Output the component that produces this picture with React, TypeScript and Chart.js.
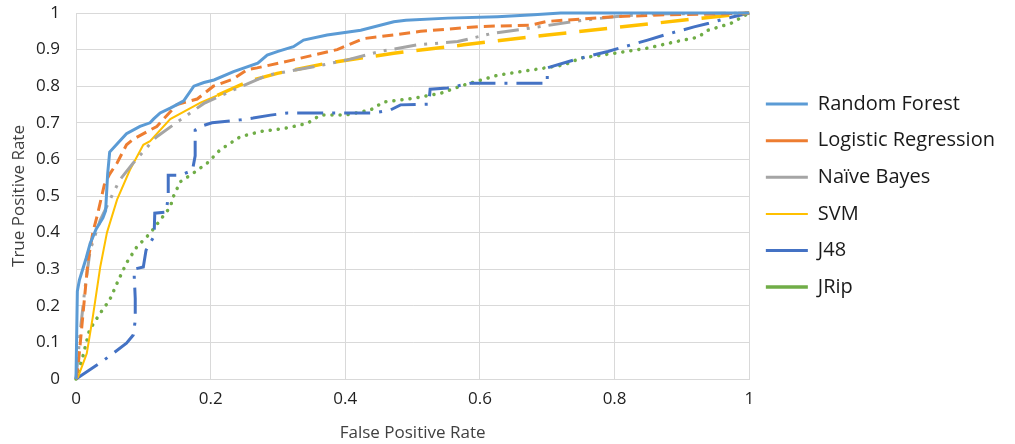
import React, { useEffect, useRef } from "react";
import { Chart, registerables } from "chart.js";

Chart.register(...registerables);

const seriesNames = ["Random Forest", "Logistic Regression", "Naïve Bayes", "SVM", "J48", "JRip"];

const rfX = [0, 0.002, 0.005, 0.01, 0.015, 0.021, 0.03, 0.04, 0.044, 0.047, 0.05, 0.065, 0.075, 0.095, 0.11, 0.115, 0.125, 0.14, 0.145, 0.16, 0.175, 0.19, 0.205, 0.234, 0.27, 0.284, 0.3, 0.323, 0.338, 0.373, 0.423, 0.472, 0.49, 0.552, 0.626, 0.68, 0.72, 1];
const rfY = [0, 0.24, 0.27, 0.3, 0.33, 0.37, 0.41, 0.44, 0.46, 0.56, 0.62, 0.65, 0.67, 0.69, 0.7, 0.71, 0.727, 0.74, 0.745, 0.76, 0.8, 0.81, 0.817, 0.84, 0.863, 0.885, 0.895, 0.908, 0.926, 0.94, 0.953, 0.976, 0.98, 0.986, 0.99, 0.995, 1, 1];

const lrX = [0, 0.003, 0.01, 0.018, 0.025, 0.032, 0.042, 0.05, 0.061, 0.075, 0.085, 0.11, 0.12, 0.15, 0.18, 0.204, 0.234, 0.254, 0.269, 0.323, 0.388, 0.427, 0.472, 0.512, 0.6, 0.676, 0.7, 0.8, 0.875, 0.948, 1];
const lrY = [0, 0.033, 0.17, 0.325, 0.4, 0.45, 0.53, 0.56, 0.59, 0.64, 0.655, 0.68, 0.69, 0.75, 0.765, 0.8, 0.82, 0.845, 0.85, 0.872, 0.9, 0.93, 0.94, 0.95, 0.963, 0.967, 0.977, 0.99, 0.995, 0.997, 1];

const nbX = [0, 0.003, 0.006, 0.013, 0.021, 0.036, 0.055, 0.065, 0.085, 0.115, 0.12, 0.155, 0.19, 0.234, 0.284, 0.353, 0.403, 0.452, 0.507, 0.567, 0.62, 0.68, 0.74, 0.8, 0.85, 1];
const nbY = [0, 0.06, 0.125, 0.243, 0.352, 0.434, 0.507, 0.544, 0.59, 0.653, 0.662, 0.708, 0.753, 0.79, 0.83, 0.853, 0.872, 0.895, 0.913, 0.922, 0.945, 0.96, 0.977, 0.99, 0.997, 1];

const svmX = [0, 0.003, 0.016, 0.025, 0.036, 0.046, 0.061, 0.08, 0.1, 0.11, 0.14, 0.185, 0.21, 0.234, 0.259, 0.299, 0.373, 0.472, 0.576, 0.7, 0.8, 0.9, 1];
const svmY = [0, 0.005, 0.07, 0.17, 0.306, 0.4, 0.49, 0.571, 0.64, 0.65, 0.71, 0.755, 0.775, 0.795, 0.815, 0.835, 0.863, 0.89, 0.913, 0.94, 0.96, 0.98, 1];

const j48X = [0, 0.036, 0.055, 0.075, 0.085, 0.088, 0.088, 0.086, 0.1, 0.104, 0.116, 0.117, 0.134, 0.137, 0.137, 0.155, 0.173, 0.177, 0.177, 0.185, 0.202, 0.244, 0.263, 0.289, 0.314, 0.442, 0.467, 0.482, 0.524, 0.526, 0.552, 0.586, 0.7, 0.7, 0.74, 0.79, 0.849, 0.874, 0.918, 0.94, 0.963, 1];
const j48Y = [0, 0.044, 0.07, 0.098, 0.12, 0.16, 0.22, 0.3, 0.306, 0.352, 0.39, 0.453, 0.456, 0.5, 0.557, 0.557, 0.57, 0.61, 0.68, 0.69, 0.7, 0.708, 0.713, 0.721, 0.727, 0.727, 0.735, 0.749, 0.751, 0.792, 0.795, 0.808, 0.808, 0.85, 0.872, 0.895, 0.926, 0.94, 0.962, 0.972, 0.984, 1];

const jripX = [0, 0.01, 0.02, 0.036, 0.05, 0.063, 0.075, 0.09, 0.11, 0.125, 0.14, 0.145, 0.155, 0.174, 0.195, 0.214, 0.244, 0.274, 0.314, 0.344, 0.363, 0.4, 0.4375, 0.457, 0.502, 0.542, 0.576, 0.626, 0.676, 0.725, 0.75, 0.8, 0.849, 0.889, 0.924, 0.939, 0.973, 1];
const jripY = [0, 0.06, 0.134, 0.18, 0.216, 0.27, 0.317, 0.36, 0.398, 0.434, 0.47, 0.5, 0.539, 0.562, 0.59, 0.626, 0.662, 0.676, 0.686, 0.699, 0.721, 0.721, 0.735, 0.757, 0.767, 0.781, 0.803, 0.83, 0.844, 0.858, 0.877, 0.89, 0.904, 0.921, 0.934, 0.953, 0.972, 1];

const xTitle = "False Positive Rate";
const yTitle = "True Positive Rate";

const toPts = (xs: number[], ys: number[]) => xs.map((x, i) => ({ x, y: ys[i] }));
const fmt = (v: any) => String(Math.round(Number(v) * 10) / 10);

export default function App() {
  const ref = useRef<HTMLCanvasElement | null>(null);
  useEffect(() => {
    if (!ref.current) return;
    const font = "'Open Sans', 'DejaVu Sans', sans-serif";
    const chart = new Chart(ref.current, {
      type: "scatter",
      data: {
        datasets: [
          { label: seriesNames[0], data: toPts(rfX, rfY), borderColor: "#5B9BD5", backgroundColor: "#5B9BD5", borderWidth: 3 },
          { label: seriesNames[1], data: toPts(lrX, lrY), borderColor: "#ED7D31", backgroundColor: "#ED7D31", borderWidth: 3, borderDash: [11, 6] },
          { label: seriesNames[2], data: toPts(nbX, nbY), borderColor: "#A5A5A5", backgroundColor: "#A5A5A5", borderWidth: 3, borderDash: [22, 8, 3, 8, 3, 8] },
          {
            label: seriesNames[3], data: toPts(svmX, svmY), borderColor: "#FFC000", backgroundColor: "#FFC000", borderWidth: 2,
            segment: {
              borderDash: (c: any) => (c.p0.parsed.x >= 0.21 ? [28, 13] : undefined),
              borderWidth: (c: any) => (c.p0.parsed.x >= 0.21 ? 3.5 : undefined),
            },
          },
          { label: seriesNames[4], data: toPts(j48X, j48Y), borderColor: "#4472C4", backgroundColor: "#4472C4", borderWidth: 3, borderDash: [26, 9, 3, 9] },
          { label: seriesNames[5], data: toPts(jripX, jripY), borderColor: "#70AD47", backgroundColor: "#70AD47", borderWidth: 3.5, borderDash: [0.1, 8], borderCapStyle: "round" },
        ].map((d: any) => ({ ...d, showLine: true, pointRadius: 0, pointHoverRadius: 0, tension: 0, clip: 4 })),
      },
      options: {
        animation: false,
        responsive: false,
        devicePixelRatio: 1,
        layout: { padding: { top: 13, right: 16, left: 0, bottom: 0 } },
        plugins: {
          tooltip: { enabled: false },
          legend: {
            position: "right",
            fullSize: false,
            align: "start",
            title: { display: true, text: "", font: { size: 10 }, padding: { top: 26.5, bottom: 26 } },
            labels: {
              usePointStyle: true,
              pointStyle: "line",
              pointStyleWidth: 42,
              boxWidth: 42,
              padding: 16.6,
              color: "#1a1a1a",
              font: { family: font, size: 20 },
            },
          },
        },
        scales: {
          x: {
            type: "linear",
            min: 0,
            max: 1,
            ticks: { stepSize: 0.2, padding: 0, color: "#1f1f1f", font: { family: font, size: 17 }, callback: fmt },
            grid: { color: "#D9D9D9", drawTicks: true, tickLength: 10, tickColor: "rgba(0,0,0,0)", lineWidth: 1 },
            border: { color: "#D9D9D9" },
            title: { display: true, text: xTitle, color: "#404040", font: { family: font, size: 17 }, padding: { top: 0, bottom: 1 } },
            afterFit: (s: any) => { s.height = 65; },
          },
          y: {
            type: "linear",
            min: 0,
            max: 1,
            ticks: { stepSize: 0.1, padding: 0, color: "#1f1f1f", font: { family: font, size: 17 }, callback: fmt },
            grid: { color: "#D9D9D9", drawTicks: true, tickLength: 16, tickColor: "rgba(0,0,0,0)", lineWidth: 1 },
            border: { color: "#D9D9D9" },
            title: { display: true, text: yTitle, color: "#404040", font: { family: font, size: 17 }, padding: { top: 9, bottom: 0 } },
            afterFit: (s: any) => { s.width = 76; },
          },
        },
      },
    } as any);
    return () => chart.destroy();
  }, []);
  return (
    <div style={{ position: "fixed", left: 0, top: 0, width: 1015, height: 444, background: "#fff" }}>
      <canvas ref={ref} width={1015} height={444} style={{ width: 1015, height: 444, display: "block" }} />
    </div>
  );
}
